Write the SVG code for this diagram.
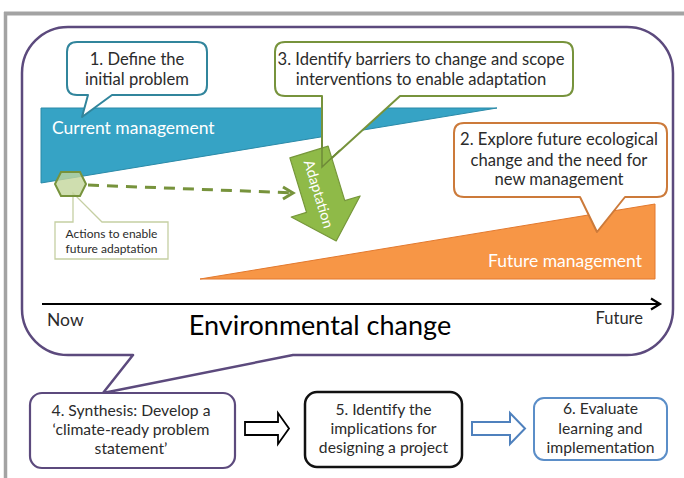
<svg xmlns="http://www.w3.org/2000/svg" width="684" height="478" viewBox="0 0 684 478">
<style>
text{font-family:Lato,"Liberation Sans",sans-serif;fill:#2b2b2b}
.c{text-anchor:middle}
.t16{font-size:16.6px}
.t15{font-size:15.7px}
.w{fill:#fff}
.co{fill:#fff;stroke-width:2;stroke-linejoin:round}
</style>
<rect width="684" height="478" fill="#fff"/>
<g id="frame" stroke="#a3a3a3" fill="none">
<line x1="4" y1="13.5" x2="684" y2="13.5" stroke-width="4"/>
<line x1="5.5" y1="12" x2="5.5" y2="478" stroke-width="3.5"/>
</g>
<g id="big-callout">
<path d="M68,27 H627 A46,46 0 0 1 673,73 V309 A46,46 0 0 1 627,355 H293 L103,393 L133,355 H68 A46,46 0 0 1 22,309 V73 A46,46 0 0 1 68,27 Z" fill="#fff" stroke="#5c4a7d" stroke-width="2.5" stroke-linejoin="round"/>
</g>
<g id="current-management">
<polygon points="41,108 497,108 41,183" fill="#36a3c5" stroke="#2b8aa8" stroke-width="1"/>
<text x="52" y="134" class="w" style="font-size:17.5px">Current management</text>
</g>
<g id="future-management">
<polygon points="200,279 655,204 655,279" fill="#f79646" stroke="#e2792e" stroke-width="1"/>
<text x="642" y="267" class="w" style="font-size:17.5px;text-anchor:end">Future management</text>
</g>
<g id="axis">
<line x1="42" y1="304" x2="659" y2="304" stroke="#000" stroke-width="2"/>
<polyline points="651,298.5 660,304 651,309.5" fill="none" stroke="#000" stroke-width="2.2"/>
<text x="47" y="326" style="font-size:17.5px">Now</text>
<text x="320" y="335" class="c" style="font-size:27px;fill:#000">Environmental change</text>
<text x="643" y="323.5" style="font-size:16.5px;text-anchor:end">Future</text>
</g>
<g id="actions-box">
<path d="M55,222 H73 L73,193 L102,222 H168 V259 H55 Z" fill="#fff" stroke="#c5cfa3" stroke-width="1.3"/>
<text x="111.5" y="238" class="c" style="font-size:12px">Actions to enable</text>
<text x="111.5" y="253" class="c" style="font-size:12px">future adaptation</text>
</g>
<g id="connectors">
<line x1="88" y1="185" x2="290" y2="192.8" stroke="#77933c" stroke-width="3" stroke-dasharray="11 8"/>
<polyline points="283,187 293,193 283,199" fill="none" stroke="#77933c" stroke-width="3"/>
<path d="M245,422 H278 V413 L289,428.5 L278,444 V435 H245 Z" fill="#fff" stroke="#000" stroke-width="1.8" stroke-linejoin="miter"/>
<path d="M472,422 H510 V413 L525,428.5 L510,444 V435 H472 Z" fill="#fff" stroke="#4f81bd" stroke-width="2"/>
</g>
<g id="hexagon">
<polygon points="61,172 80,172 86,184 80,196 61,196 55,184" fill="#c3d69b" fill-opacity="0.8" stroke="#77933c" stroke-width="2"/>
</g>
<g id="callout-1">
<path class="co" d="M77,42 H197 Q207,42 207,52 V85 Q207,95 197,95 H112 L82,117 L88,95 H77 Q67,95 67,85 V52 Q67,42 77,42 Z" stroke="#31859c"/>
<text x="137" y="65" class="c t16">1. Define the</text>
<text x="137" y="85" class="c t16">initial problem</text>
</g>
<g id="callout-2">
<path class="co" d="M464,123 H657 Q667,123 667,133 V187 Q667,197 657,197 H625 L597,232 L580,197 H464 Q454,197 454,187 V133 Q454,123 464,123 Z" stroke="#cc7a3a"/>
<text x="559" y="145" class="c t16">2. Explore future ecological</text>
<text x="559" y="165.5" class="c t16">change and the need for</text>
<text x="559" y="185" class="c t16">new management</text>
</g>
<g id="callout-3">
<path class="co" d="M285,42 H563 Q573,42 573,52 V86 Q573,96 563,96 H400 L322,167 L322,96 H285 Q275,96 275,86 V52 Q275,42 285,42 Z" stroke="#77933c"/>
<text x="421" y="65" class="c t16">3. Identify barriers to change and scope</text>
<text x="421" y="85" class="c t16">interventions to enable adaptation</text>
</g>
<g id="adaptation-arrow" transform="translate(309,152) rotate(-17)">
<path d="M-20,0 H20 V57 H36 L0,93 L-36,57 H-20 Z" fill="#8fba48" stroke="#76973a" stroke-width="1.2" stroke-linejoin="round"/>
<text transform="translate(-8,43) rotate(90)" class="c w" style="font-size:14.5px">Adaptation</text>
</g>
<g id="callout-3-tail">
<polyline points="322,140 322,167 340,150" fill="none" stroke="#6f8a38" stroke-width="1.5"/>
</g>
<g id="box-4">
<rect x="30" y="393" width="205" height="75" rx="12" fill="#fff" stroke="#5c4a7d" stroke-width="2.2"/>
<text x="131" y="416" class="c t15">4. Synthesis: Develop a</text>
<text x="131" y="435" class="c t15">‘climate-ready problem</text>
<text x="131" y="454" class="c t15">statement’</text>
</g>
<g id="box-5">
<rect x="305" y="392" width="157" height="75" rx="12" fill="#fff" stroke="#111" stroke-width="2.5"/>
<text x="383.5" y="415" class="c t15">5. Identify the</text>
<text x="383.5" y="434" class="c t15">implications for</text>
<text x="383.5" y="453" class="c t15">designing a project</text>
</g>
<g id="box-6">
<rect x="534" y="398" width="133" height="62" rx="10" fill="#fff" stroke="#5b8ec8" stroke-width="2"/>
<text x="600.5" y="414" class="c t15">6. Evaluate</text>
<text x="600.5" y="434" class="c t15">learning and</text>
<text x="600.5" y="453" class="c t15">implementation</text>
</g>
</svg>
